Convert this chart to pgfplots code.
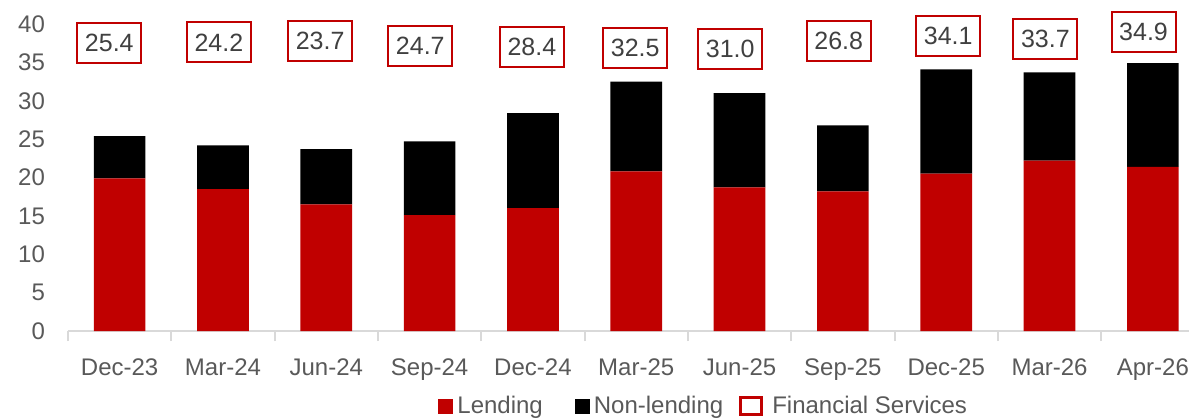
\documentclass[border=0pt]{standalone}
\usepackage{fontspec}
\setmainfont{Liberation Sans}
\usepackage{pgfplots}
\usepackage{pgfplotstable}
\pgfplotsset{compat=1.18}

\definecolor{fsred}{HTML}{C00000}
\definecolor{txtgray}{HTML}{595959}
\definecolor{axgray}{HTML}{D9D9D9}

% lending / non-lending split, totals in the boxes
\pgfplotstableread{
x  lending nonlending
0  19.9  5.5
1  18.5  5.7
2  16.5  7.2
3  15.1  9.6
4  16.0  12.4
5  20.8  11.7
6  18.7  12.3
7  18.2  8.6
8  20.5  13.6
9  22.2  11.5
10 21.4  13.5
}\splitdata

\pgfplotstableread{
x     ypos  total
-0.10 37.5  25.4
0.96  37.6  24.2
1.94  37.8  23.7
2.91  37.1  24.7
3.99  37.0  28.4
4.99  36.9  32.5
5.91  36.8  31.0
6.96  37.8  26.8
8.02  38.5  34.1
8.96  38.1  33.7
9.91  39.0  34.9
}\totaldata

\pgfplotsset{
  base/.style={
    scale only axis,
    width=560.5pt, height=153.5pt,
    xmin=-0.5, xmax=10.35,
    ymin=0, ymax=40,
    clip=false,
  },
}

\begin{document}
\begin{tikzpicture}[font=\fontsize{12}{14.4}\selectfont]
\begin{axis}[
    base,
    name=main,
    ybar stacked,
    bar width=0.5,
    axis lines*=left,
    y axis line style={draw=none},
    x axis line style={draw=axgray, line width=1pt},
    ytick={0,5,...,40},
    xtick={0,...,10},
    xticklabels={Dec-23,Mar-24,Jun-24,Sep-24,Dec-24,Mar-25,Jun-25,Sep-25,Dec-25,Mar-26,Apr-26},
    minor xtick={-0.5,0.5,...,9.5},
    major tick length=0pt,
    minor tick length=5pt,
    tick align=outside,
    minor tick style={draw=axgray, line width=1pt},
    ytick style={draw=none},
    tick label style={text=txtgray, font=\fontsize{12}{14.4}\selectfont},
    xticklabel style={yshift=-10.5pt},
    yticklabel style={xshift=-8pt},
    /pgf/number format/assume math mode=true,
    legend columns=3,
    legend style={draw=none, fill=none, at={(0.568,-0.245)}, anchor=center,
      font=\fontsize{12}{14.4}\selectfont, text=txtgray,
      /tikz/column 2/.style={column sep=14pt},
      /tikz/column 4/.style={column sep=6pt}},
    legend cell align=left,
]
\addplot[fill=fsred, draw=none,
  legend image code/.code={\fill[fsred] (0pt,-3.75pt) rectangle (7.5pt,3.75pt);}]
  table[x=x, y=lending] {\splitdata};
\addlegendentry{Lending}
\addplot[fill=black, draw=none,
  legend image code/.code={\fill[black] (0pt,-3.75pt) rectangle (7.5pt,3.75pt);}]
  table[x=x, y=nonlending] {\splitdata};
\addlegendentry{Non-lending}
\addlegendimage{legend image code/.code={%
  \draw[fsred, line width=1.6pt] (0.8pt,-4.2pt) rectangle (11.2pt,4.2pt);
  \path[draw=none, fill=none] (0pt,0pt) rectangle (14.5pt,0.1pt);}}
\addlegendentry{Financial Services}
\end{axis}

\begin{axis}[
    base,
    hide axis,
]
\addplot[draw=none, mark=none,
  nodes near coords,
  point meta=explicit symbolic,
  nodes near coords style={anchor=center, draw=fsred, line width=1pt, fill=white,
    minimum width=32pt, minimum height=20pt, inner sep=0pt, text=black!75,
    font=\fontsize{12.5}{15}\selectfont}]
  table[x=x, y=ypos, meta=total] {\totaldata};
\end{axis}

\pgfresetboundingbox
\useasboundingbox ([xshift=-34pt, yshift=-43.5pt]main.south west)
  rectangle ([yshift=12pt]main.north east);
\end{tikzpicture}
\end{document}
